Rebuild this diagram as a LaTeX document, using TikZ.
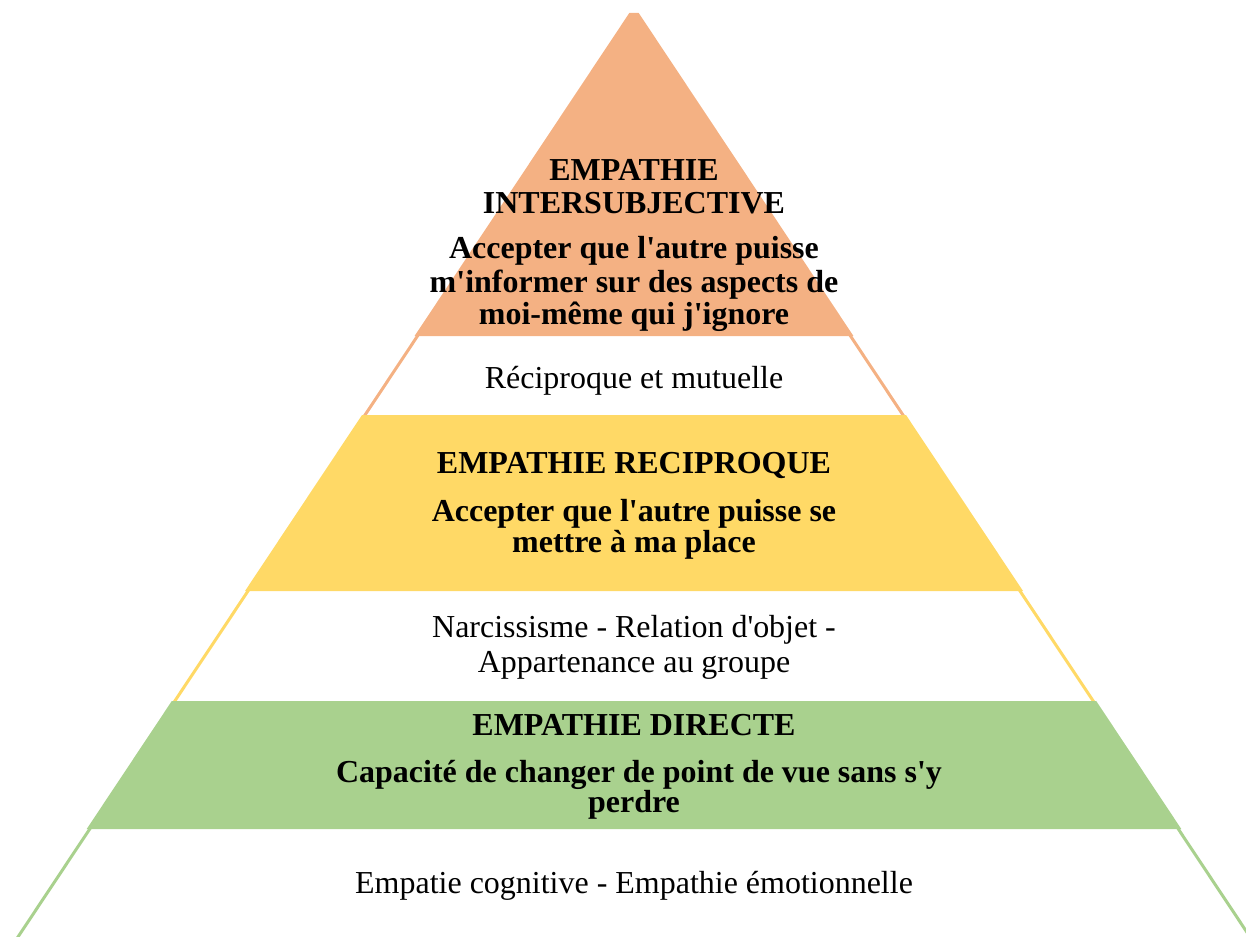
\documentclass[tikz,border=0pt]{standalone}
\usepackage{fontspec}
\setmainfont{Liberation Serif}
\usepackage{tikz}

\definecolor{orangepyr}{HTML}{F4B183}
\definecolor{jaunepyr}{HTML}{FFD966}
\definecolor{vertpyr}{HTML}{A9D18E}
\newcommand{\apos}{\textquotesingle}

\begin{document}
\begin{tikzpicture}[x=0.02cm, y=-0.02cm,
  every node/.style={anchor=base, inner sep=0pt, outer sep=0pt, font=\fontsize{18.2}{21}\selectfont},
  titre/.style={font=\fontsize{18.2}{21}\selectfont\bfseries},
  bord/.style={line width=1.7pt}]
\useasboundingbox (0,0) rectangle (1246,936);
\clip (0,0) rectangle (1246,936);

% sides of the white bands
\draw[bord, orangepyr] (421.5,330) -- (361.7,420);
\draw[bord, orangepyr] (846.5,330) -- (906.3,420);
\draw[bord, jaunepyr] (252,585) -- (170.8,707);
\draw[bord, jaunepyr] (1016,585) -- (1097.2,707);
\draw[bord, vertpyr] (93.7,823) -- (12.6,945);
\draw[bord, vertpyr] (1174.3,823) -- (1255.4,945);

% coloured bands
\fill[orangepyr] (629.3,13) -- (638.7,13) -- (853.45,336) -- (414.55,336) -- cycle;
\fill[jaunepyr] (362,415) -- (906,415) -- (1023,591) -- (245,591) -- cycle;
\fill[vertpyr] (171.8,701) -- (1096.2,701) -- (1181.3,829) -- (86.7,829) -- cycle;

% level 3
\node[titre] (titre3a) at (634,180) {EMPATHIE};
\node[titre] (titre3b) at (634,213) {INTERSUBJECTIVE};
\node[titre] (texte3a) at (634,258) {Accepter que l\apos autre puisse};
\node[titre] (texte3b) at (634,292) {m\apos informer sur des aspects de};
\node[titre] (texte3c) at (634,324) {moi-même qui j\apos ignore};
\node (base3) at (634,388) {Réciproque et mutuelle};

% level 2
\node[titre] (titre2) at (634,473) {EMPATHIE RECIPROQUE};
\node[titre] (texte2a) at (634,521) {Accepter que l\apos autre puisse se};
\node[titre] (texte2b) at (634,552) {mettre à ma place};
\node (base2a) at (634,637) {Narcissisme - Relation d\apos objet -};
\node (base2b) at (634,672) {Appartenance au groupe};

% level 1
\node[titre] (titre1) at (634,735) {EMPATHIE DIRECTE};
\node[titre] (texte1a) at (639,782) {Capacité de changer de point de vue sans s\apos y};
\node[titre] (texte1b) at (634,812) {perdre};
\node (base1) at (634,893) {Empatie cognitive - Empathie émotionnelle};
\end{tikzpicture}
\end{document}
